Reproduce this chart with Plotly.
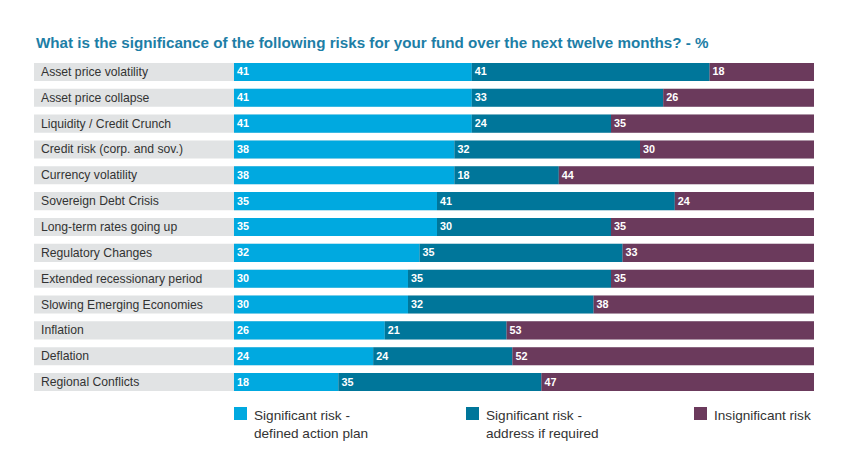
import plotly.graph_objects as go

categories = ["Asset price volatility", "Asset price collapse", "Liquidity / Credit Crunch",
              "Credit risk (corp. and sov.)", "Currency volatility", "Sovereign Debt Crisis",
              "Long-term rates going up", "Regulatory Changes", "Extended recessionary period",
              "Slowing Emerging Economies", "Inflation", "Deflation", "Regional Conflicts"]
defined_plan = [41, 41, 41, 38, 38, 35, 35, 32, 30, 30, 26, 24, 18]
if_required = [41, 33, 24, 32, 18, 41, 30, 35, 35, 32, 21, 24, 35]
insignificant = [18, 26, 35, 30, 44, 24, 35, 33, 35, 38, 53, 52, 47]
series_names = ["Significant risk -<br>defined action plan",
                "Significant risk -<br>address if required",
                "Insignificant risk"]
colors = ["#00a9e0", "#00769a", "#6b3a5c"]

LABEL_W = 34.48  # label band width in axis units
FONT = "Liberation Sans, Arial, sans-serif"
W, H = 854, 465
PL, PR, PT, PB = 34, 40, 59, 70
PW, PH = W - PL - PR, H - PT - PB

fig = go.Figure()
fig.add_trace(go.Bar(y=categories, x=[100 + LABEL_W] * len(categories), base=[-LABEL_W] * len(categories),
                     orientation="h", marker=dict(color="#e1e3e4", line=dict(width=0)),
                     showlegend=False, hoverinfo="skip"))

series = [defined_plan, if_required, insignificant]
bases = [[0] * len(categories), defined_plan, [a + b for a, b in zip(defined_plan, if_required)]]
for vals, base, name, col in zip(series, bases, series_names, colors):
    fig.add_trace(go.Bar(y=categories, x=vals, base=base, orientation="h", name=name,
                         marker=dict(color=col, line=dict(width=0)),
                         text=[str(v) for v in vals], textposition="inside", textangle=0,
                         insidetextanchor="start", showlegend=False,
                         textfont=dict(color="white", size=12.5, family=FONT, weight="bold")))

for cat in categories:
    fig.add_annotation(x=-LABEL_W, y=cat, text=cat, showarrow=False, xanchor="left",
                       xshift=5, font=dict(size=12.2, color="#333333", family=FONT))

# manual legend (pixel positions converted to paper coords)
legend_x = [234, 466, 694]
for lx, name, col in zip(legend_x, series_names, colors):
    fig.add_shape(type="rect", xref="paper", yref="paper",
                  x0=(lx - PL) / PW, x1=(lx + 13 - PL) / PW,
                  y0=(H - PB - 420) / PH, y1=(H - PB - 407) / PH,
                  fillcolor=col, line=dict(width=0))
    fig.add_annotation(xref="paper", yref="paper", x=(lx + 18 - PL) / PW, y=(H - PB - 406) / PH,
                       text=name, showarrow=False, xanchor="left", yanchor="top", align="left",
                       font=dict(size=13.6, color="#333333", family=FONT))

fig.update_layout(
    width=W, height=H,
    margin=dict(l=PL, r=PR, t=PT, b=PB, autoexpand=False),
    plot_bgcolor="white", paper_bgcolor="white",
    barmode="overlay", bargap=0.3, showlegend=False,
    title=dict(text="What is the significance of the following risks for your fund over the next twelve months? - %",
               x=36 / W, xanchor="left", y=1 - 43 / H, yanchor="middle",
               font=dict(size=15.2, color="#1d7ea6", family=FONT, weight="bold")),
    xaxis=dict(range=[-LABEL_W, 100], visible=False, fixedrange=True),
    yaxis=dict(autorange="reversed", visible=False, fixedrange=True),
)

fig.write_html("out.html", config={"displayModeBar": False},
               post_script="document.body.style.margin='0';")
